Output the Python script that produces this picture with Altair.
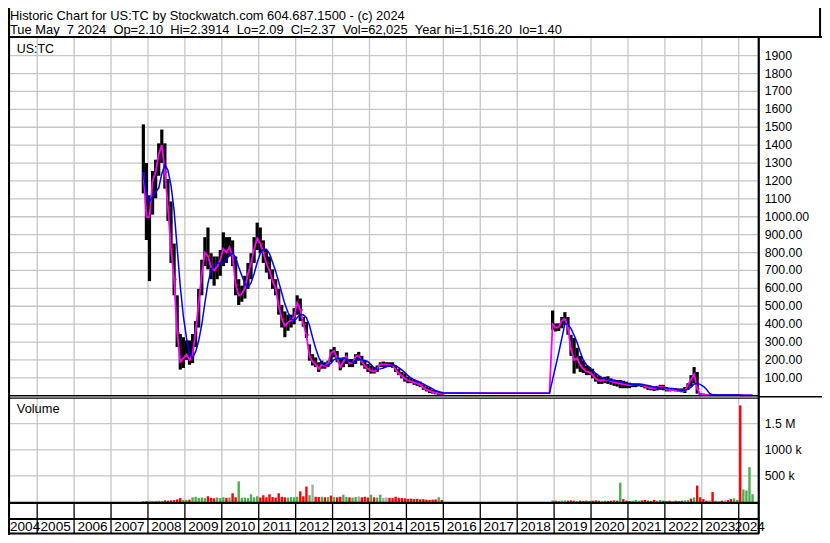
import altair as alt
import numpy as np
import pandas as pd

# ---------------- values ----------------
header1 = "Historic Chart for US:TC by Stockwatch.com 604.687.1500 - (c) 2024"
header2 = ("Tue May  7 2024  Op=2.10  Hi=2.3914  Lo=2.09  Cl=2.37  "
           "Vol=62,025  Year hi=1,516.20  lo=1.40").replace("  ", "\u00a0\u00a0")
symbol_label = "US:TC"
volume_label = "Volume"

# segment 1: monthly bars Nov 2007 - Dec 2015
seg1_start = "2007-11"
seg1_hi = [1516, 1300, 1120, 1256, 1319, 1410, 1487, 1410, 1211, 1085, 850, 561, 345, 327,
           309, 309, 345, 417, 597, 760, 886, 940, 796, 778, 778, 814,
           913, 886, 886, 868, 778, 651, 615, 670, 742, 796, 886, 967,
           940, 868, 814, 778, 706, 651, 597, 507, 471, 453, 453, 489,
           561, 543, 440, 413, 287, 232, 214, 187, 196, 187, 196, 259,
           272, 250, 205, 214, 241, 205, 205, 232, 245, 223, 196, 178,
           169, 160, 169, 187, 191, 187, 187, 187, 169, 151, 133, 124,
           106, 97, 91, 84, 79, 61, 52, 43, 34, 30, 25, 22]
seg1_lo = [1130, 870, 640, 1012, 1103, 1229, 1301, 1157, 976, 742, 561, 272, 146, 155,
           200, 173, 182, 272, 381, 561, 724, 706, 651, 615, 651, 670,
           724, 742, 778, 724, 561, 507, 525, 543, 597, 651, 742, 814,
           796, 742, 688, 651, 597, 561, 453, 381, 327, 363, 381, 399,
           453, 417, 386, 323, 196, 169, 160, 133, 151, 151, 160, 187,
           214, 187, 142, 160, 178, 160, 160, 178, 196, 169, 151, 133,
           124, 124, 133, 160, 160, 160, 160, 156, 133, 115, 97, 79,
           70, 70, 61, 55, 48, 33, 24, 15, 12, 8, 4, 4]
seg1_close = [1250, 1000, 1000, 1200, 1250, 1350, 1400, 1250, 1050, 820, 650, 350, 190, 210,
              230, 200, 230, 360, 520, 680, 800, 780, 720, 700, 720, 760,
              820, 800, 830, 780, 620, 560, 570, 600, 680, 740, 820, 880,
              850, 800, 740, 700, 640, 600, 500, 430, 390, 410, 420, 440,
              520, 480, 400, 340, 220, 190, 175, 150, 175, 165, 180, 240,
              250, 210, 160, 190, 220, 180, 185, 220, 225, 190, 165, 150,
              140, 135, 150, 175, 175, 175, 172, 170, 145, 125, 110, 95,
              85, 80, 75, 68, 60, 45, 35, 28, 20, 16, 12, 10]
seg1_vol_k = [20, 15, 25, 20, 20, 25, 20, 30, 25, 30, 35, 50, 75, 40,
              40, 45, 90, 100, 80, 85, 75, 110, 80, 70, 85, 75,
              90, 80, 85, 167, 90, 395, 80, 85, 75, 148, 90, 110,
              85, 130, 90, 148, 95, 85, 167, 100, 90, 85, 95, 90,
              100, 204, 110, 296, 130, 333, 100, 95, 100, 90, 95, 123,
              95, 90, 100, 140, 95, 90, 85, 95, 105, 90, 100, 85,
              140, 90, 85, 140, 80, 85, 80, 75, 100, 80, 75, 70,
              60, 65, 55, 60, 50, 55, 45, 40, 45, 50, 92, 40]

# flat stretch without trading
gap_months = ["2016-01", "2018-11"]
gap_close = [15, 15]

# segment 2: monthly bars Dec 2018 - May 2024
seg2_start = "2018-12"
seg2_hi = [476,
           404, 404, 440, 467, 440, 341, 323, 268, 223, 196, 169, 160,
           151, 124, 109, 102, 106, 109, 97, 91, 88, 88, 84, 79,
           73, 70, 70, 70, 66, 61, 55, 55, 52, 55, 61, 61,
           48, 42, 44, 42, 41, 41, 48, 70, 115, 160, 133, 15,
           12, 10, 9, 8, 8, 7, 7, 6, 6, 5.5, 6, 6,
           5, 3.5, 3.5, 3.2, 2.6]
seg2_lo = [368,
           359, 362, 377, 395, 341, 223, 124, 151, 133, 127, 115, 115,
           97, 79, 66, 66, 70, 66, 61, 55, 51, 42, 42, 42,
           42, 48, 48, 52, 48, 41, 33, 30, 26, 30, 33, 30,
           24, 24, 26, 24, 23, 19, 15, 33, 51, 70, 12, 4,
           3, 3, 3, 2.5, 3, 3, 2.5, 2.5, 2.5, 2, 2.5, 3,
           1.4, 1.8, 1.9, 2.0, 2.09]
seg2_close = [400,
              380, 385, 420, 430, 380, 260, 200, 210, 170, 150, 135, 130,
              115, 95, 85, 85, 90, 88, 80, 75, 72, 68, 65, 62,
              60, 62, 63, 64, 62, 52, 45, 42, 40, 45, 50, 48,
              35, 32, 33, 32, 30, 28, 30, 60, 90, 120, 40, 8,
              6, 5, 5, 4, 4.5, 4.5, 4, 4, 3.8, 3.5, 4, 4.2,
              2.0, 2.1, 2.2, 2.3, 2.37]
seg2_vol_k = [30,
              25, 20, 25, 30, 25, 30, 25, 20, 25, 20, 25, 20,
              25, 30, 25, 20, 25, 20, 25, 30, 25, 370, 55, 25,
              20, 25, 40, 25, 30, 40, 25, 20, 40, 25, 40, 25,
              20, 25, 20, 25, 20, 25, 30, 35, 65, 90, 315, 90,
              55, 25, 30, 190, 25, 20, 25, 30, 35, 55, 70, 40,
              1850, 240, 220, 667, 150]

vol_dir_read = {"2010-06": "up", "2012-05": "up", "2012-06": "flat", "2012-12": "down",
                "2013-09": "flat", "2014-01": "up", "2015-11": "up",
                "2020-10": "up", "2022-09": "down"}

price_levels = list(range(100, 2000, 100))
vol_levels = [500000, 1000000, 1500000]
vol_labels = ["500 k", "1000 k", "1.5 M"]
label_years = list(range(2004, 2025))
grid_years = list(range(2005, 2025))

# ---------------- layout ----------------
W, H = 814, 527
SX, SY = W / 830, H / 543
FONT = "Liberation Sans"


def px(x):
    return round(x * SX, 2)


def py(y):
    return round(y * SY, 2)


T0, T1 = 2004.345, 2024.42          # visible time span of the plot
GRID = "#c6c6c6"

xs = alt.Scale(domain=[T0, T1], range=[px(0), px(766)], nice=False, zero=False)
ys_p = alt.Scale(domain=[0, 1900], range=[py(399.5), py(49.1)], nice=False, zero=False)
ys_v = alt.Scale(domain=[0, 1500000], range=[py(509), py(428.3)], nice=False)


def build(start, hi, lo, cl, vol_k):
    per = pd.period_range(start, periods=len(cl), freq="M")
    return pd.DataFrame({
        "m": [str(p) for p in per],
        "t": np.asarray(per.year + (per.month - 0.5) / 12, dtype=float),
        "hi": hi, "lo": lo, "close": cl,
        "vol": [v * 1000 for v in vol_k],
    })


gper = pd.PeriodIndex(gap_months, freq="M")
gap_df = pd.DataFrame({"m": gap_months,
                       "t": np.asarray(gper.year + (gper.month - 0.5) / 12, dtype=float),
                       "close": gap_close})
line_df = pd.concat([build(seg1_start, seg1_hi, seg1_lo, seg1_close, seg1_vol_k),
                     gap_df,
                     build(seg2_start, seg2_hi, seg2_lo, seg2_close, seg2_vol_k)],
                    ignore_index=True).sort_values("t").reset_index(drop=True)
prev = line_df["close"].shift(1)
line_df["dir"] = np.where(line_df["close"] < prev, "down",
                          np.where(line_df["close"] > prev, "up", "flat"))
bars_df = line_df.dropna(subset=["hi"]).reset_index(drop=True)
bars_df["vdir"] = [vol_dir_read.get(m, d) for m, d in zip(bars_df["m"], bars_df["dir"])]

price_df = pd.DataFrame({"v": price_levels,
                         "lab": [f"{v}" if v > 1000 else f"{v:.2f}" for v in price_levels]})
vol_df = pd.DataFrame({"v": vol_levels, "lab": vol_labels})
gy_df = pd.DataFrame({"yr": grid_years})
# year labels sit in the middle of their year; the first and last are squeezed to the edges
yl_df = pd.DataFrame({"tc": [min(max(y + 0.5, (T0 + y + 1) / 2), T1 - 0.12) for y in label_years],
                      "lab": [str(y) for y in label_years]})
one = pd.DataFrame({"z": [0]})

X = lambda f: alt.X(f, scale=xs, axis=None)
YP = lambda f: alt.Y(f, scale=ys_p, axis=None)
YV = lambda f: alt.Y(f, scale=ys_v, axis=None)


def hline(y, x1, x2, w=2.0, color="black"):
    return alt.Chart(one).mark_rule(color=color, strokeWidth=w).encode(
        x=alt.value(px(x1)), x2=alt.value(px(x2)), y=alt.value(py(y)))


def vline(x, y1, y2, w=2.0, color="black"):
    return alt.Chart(one).mark_rule(color=color, strokeWidth=w).encode(
        x=alt.value(px(x)), y=alt.value(py(y1)), y2=alt.value(py(y2)))


def static_text(txt, x, y, size):
    return alt.Chart(pd.DataFrame({"txt": [txt]})).mark_text(
        align="left", baseline="alphabetic", font=FONT, fontSize=size, color="black"
    ).encode(x=alt.value(px(x)), y=alt.value(py(y)), text="txt:N")


layers = []
# grids
layers.append(alt.Chart(gy_df).mark_rule(color=GRID, strokeWidth=1.3).encode(
    x=X("yr:Q"), y=alt.value(py(31)), y2=alt.value(py(399.5))))
layers.append(alt.Chart(gy_df).mark_rule(color=GRID, strokeWidth=1.3).encode(
    x=X("yr:Q"), y=alt.value(py(402)), y2=alt.value(py(509.5))))
layers.append(alt.Chart(price_df).mark_rule(color=GRID, strokeWidth=1.3).encode(
    y=YP("v:Q"), x=alt.value(px(2)), x2=alt.value(px(766))))
layers.append(alt.Chart(vol_df).mark_rule(color=GRID, strokeWidth=1.3).encode(
    y=YV("v:Q"), x=alt.value(px(2)), x2=alt.value(px(766))))

# price bars, closes and averages
layers.append(alt.Chart(bars_df).mark_rule(color="black", strokeWidth=3.2).encode(
    x=X("t:Q"), y=YP("lo:Q"), y2="hi:Q"))
layers.append(alt.Chart(bars_df[bars_df["dir"] == "down"]).mark_tick(
    color="#ff0000", orient="horizontal", size=3, thickness=1.8, xOffset=1.2).encode(
    x=X("t:Q"), y=YP("close:Q")))
layers.append(alt.Chart(line_df).mark_line(color="#ff00ff", strokeWidth=1.8).encode(
    x=X("t:Q"), y=YP("close:Q"), order="t:Q"))
layers.append(alt.Chart(line_df).transform_window(
    ma="mean(close)", frame=[-4, 0], sort=[{"field": "t"}]
).mark_line(color="#0000ff", strokeWidth=1.5).encode(
    x=X("t:Q"), y=YP("ma:Q"), order="t:Q"))

# volume
layers.append(alt.Chart(bars_df).mark_bar(width=2.4).encode(
    x=X("t:Q"), y=YV("vol:Q"),
    color=alt.Color("vdir:N", scale=alt.Scale(domain=["up", "down", "flat"],
                                              range=["#4caf4c", "#ff0000", "#a8a8a8"]),
                    legend=None)))

# year labels
layers.append(alt.Chart(yl_df).mark_text(
    align="center", baseline="alphabetic", font=FONT, fontSize=13.6, color="black").encode(
    x=X("tc:Q"), y=alt.value(py(539)), text="lab:N"))

# frame
layers += [
    vline(1, 0, 543, 2.2),
    hline(30, 0, 830, 2.0),
    vline(828, 0, 30, 2.0),
    vline(765.5, 30, 541.5, 2.2),
    hline(399.5, 0, 766, 1.4),
    hline(402, 0, 766, 1.4),
    hline(400.5, 766, 830, 1.4),
    hline(510, 0, 766, 2.2),
    hline(526.5, 0, 766, 2.2),
    hline(541.5, 0, 766, 2.0),
]
layers.append(alt.Chart(gy_df).mark_rule(color="black", strokeWidth=1.3).encode(
    x=X("yr:Q"), y=alt.value(py(510)), y2=alt.value(py(541.5))))

# texts
layers.append(static_text(header1, 2, 12.8, 12.9))
layers.append(static_text(header2, 2, 27.0, 12.9))
layers.append(static_text(symbol_label, 9, 46.7, 12.4))
layers.append(static_text(volume_label, 9, 417.7, 12.8))
layers.append(alt.Chart(price_df).mark_text(
    align="left", baseline="middle", font=FONT, fontSize=12.3, color="black").encode(
    x=alt.value(px(771.5)), y=YP("v:Q"), text="lab:N"))
layers.append(alt.Chart(vol_df).mark_text(
    align="left", baseline="middle", font=FONT, fontSize=12.3, color="black").encode(
    x=alt.value(px(771.5)), y=YV("v:Q"), text="lab:N"))

chart = alt.layer(*layers).resolve_scale(y="independent").properties(
    width=W, height=H, padding=0,
    autosize=alt.AutoSizeParams(type="none"),
).configure(background="white").configure_view(stroke=None)

chart.save("out.html", embed_options={"renderer": "svg", "actions": False})
